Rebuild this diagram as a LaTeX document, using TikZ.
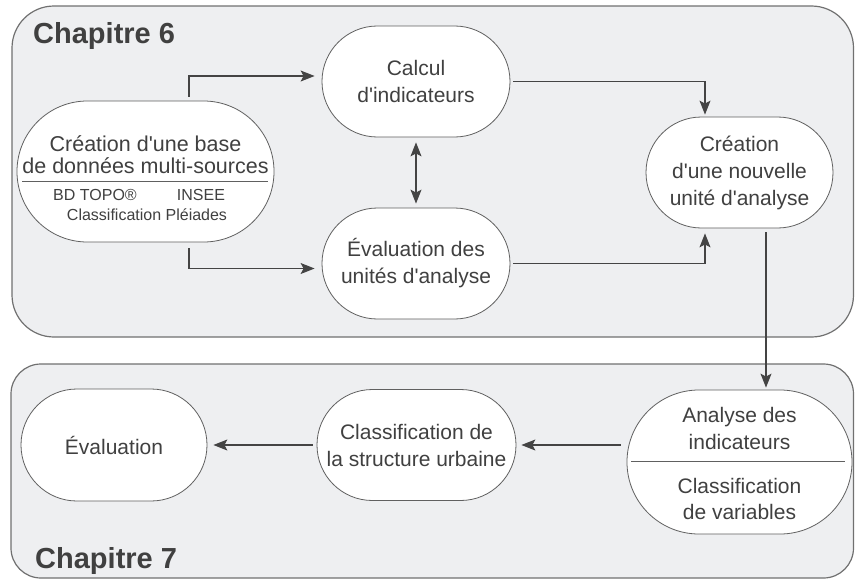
\documentclass[tikz,border=0pt]{standalone}
\usepackage{fontspec}
\setmainfont{Liberation Sans}
\usetikzlibrary{arrows.meta}
\newcommand{\ap}{\textquotesingle}
\definecolor{panelfill}{HTML}{EEEFF1}
\definecolor{panelline}{HTML}{707070}
\definecolor{nodeline}{HTML}{606060}
\definecolor{txt}{HTML}{404040}
\definecolor{arrowc}{HTML}{444444}
\tikzset{
  panel/.style={draw=panelline, fill=panelfill, line width=1.2pt},
  stadium/.style={draw=nodeline, fill=white, line width=0.8pt, inner sep=0pt, align=center,
     text=txt, font=\fontsize{21}{27}\selectfont},
  plain/.style={inner sep=0pt, align=center, text=txt},
  divider/.style={draw=nodeline, line width=0.9pt},
  arr/.style={draw=arrowc, line width=1.1pt, -{Stealth[length=14pt,width=11pt,inset=3pt]}},
  arrboth/.style={draw=arrowc, line width=1.1pt, {Stealth[length=14pt,width=11pt,inset=3pt]}-{Stealth[length=14pt,width=11pt,inset=3pt]}},
  chap/.style={inner sep=0pt, anchor=base west, text=txt, font=\fontsize{29}{32}\selectfont\bfseries}
}
\begin{document}
\begin{tikzpicture}[x=1pt,y=-1pt]
\useasboundingbox (0,0) rectangle (855,579);
% panels
\draw[panel, rounded corners=42pt] (12,6) rectangle (853.5,337);
\draw[panel, rounded corners=30pt] (11,364) rectangle (853.5,578);
\node[chap] (ch6) at (33,43) {Chapitre 6};
\node[chap] (ch7) at (35,568) {Chapitre 7};

% chapter 6 nodes
\node[stadium, minimum width=257pt, minimum height=141pt, rounded corners=70.4pt] (cre) at (145.5,171.5) {};
\node[plain, font=\fontsize{21.5}{22.5}\selectfont] (cret) at (145.5,154.5) {Création d\ap une base\\de données multi-sources};
\draw[divider] (22,181) -- (268,181);
\node[plain, font=\fontsize{16}{18}\selectfont] (bd) at (95,195) {BD TOPO®};
\node[plain, font=\fontsize{16}{18}\selectfont] (insee) at (201,195) {INSEE};
\node[plain, font=\fontsize{16}{18}\selectfont] (pl) at (147,215) {Classification Pléiades};

\node[stadium, minimum width=188pt, minimum height=111pt, rounded corners=55.4pt] (cal) at (416,81.5) {Calcul\\d\ap indicateurs};
\node[stadium, minimum width=188pt, minimum height=111pt, rounded corners=55.4pt] (eva) at (416,263.5) {Évaluation des\\unités d\ap analyse};
\node[stadium, minimum width=187pt, minimum height=111pt, rounded corners=55.4pt] (new) at (739.5,172.5) {Création\\d\ap une nouvelle\\unité d\ap analyse};

% chapter 7 nodes
\node[stadium, minimum width=225pt, minimum height=144pt, rounded corners=71.9pt] (ana) at (739.5,462) {};
\node[plain, font=\fontsize{21}{27}\selectfont] (anat) at (739.5,428.5) {Analyse des\\indicateurs};
\draw[divider] (631,461) -- (845,461);
\node[plain, font=\fontsize{21}{26}\selectfont] (clv) at (739.5,499) {Classification\\de variables};
\node[stadium, minimum width=199pt, minimum height=111pt, rounded corners=55.4pt] (cla) at (416.5,445) {Classification de\\la structure urbaine};
\node[stadium, minimum width=186pt, minimum height=112pt, rounded corners=55.9pt] (ev2) at (114,445) {Évaluation};

% connectors
\draw[arr] ([xshift=43.5pt,yshift=4pt]cre.north) |- ([xshift=-7pt,yshift=5.5pt]cal.west);
\draw[arr] ([xshift=43.5pt,yshift=-6pt]cre.south) |- ([xshift=-7pt,yshift=-5pt]eva.west);
\draw[arrboth] ([yshift=-5pt]cal.south) -- ([yshift=4pt]eva.north);
\draw[arr] ([xshift=3pt]cal.east) -| ([xshift=-34.5pt,yshift=2pt]new.north);
\draw[arr] ([xshift=3pt]eva.east) -| ([xshift=-34.5pt,yshift=-5pt]new.south);
\draw[arr] ([xshift=26.5pt,yshift=-4pt]new.south) -- ([xshift=26.5pt,yshift=2pt]ana.north);
\draw[arr] ([xshift=-6pt,yshift=17pt]ana.west) -- ([xshift=5pt]cla.east);
\draw[arr] ([xshift=-4pt]cla.west) -- ([xshift=6pt]ev2.east);
\end{tikzpicture}
\end{document}
